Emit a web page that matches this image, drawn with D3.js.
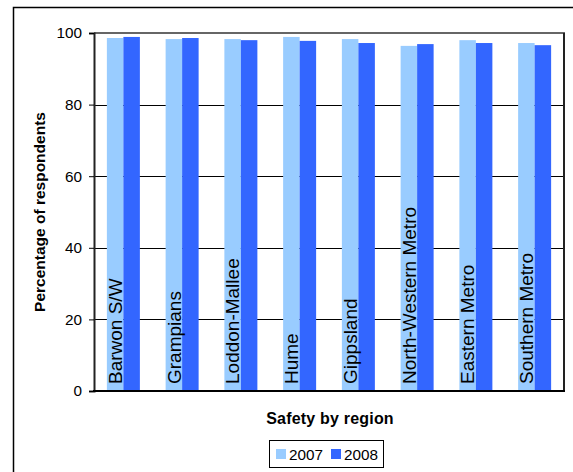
<!DOCTYPE html>
<html><head><meta charset="utf-8">
<script src="https://cdn.jsdelivr.net/npm/d3@7"></script>
<style>html,body{margin:0;padding:0;background:#fff;}svg{display:block;}</style>
</head><body>
<script>
const categories = ["Barwon S/W","Grampians","Loddon-Mallee","Hume","Gippsland","North-Western Metro","Eastern Metro","Southern Metro"];
const seriesNames = ["2007","2008"];
const values2007 = [98.6, 98.3, 98.3, 98.9, 98.3, 96.4, 98.0, 97.2];
const values2008 = [98.9, 98.6, 98.0, 97.8, 97.2, 96.9, 97.2, 96.6];
const yTicks = [0, 20, 40, 60, 80, 100];
const colors = ["#99CCFF", "#3366FF"];
const yTitle = "Percentage of respondents";
const xTitle = "Safety by region";

const W = 573, H = 472;
const font = "'Liberation Sans', Arial, sans-serif";
const svg = d3.select("body").append("svg").attr("width", W).attr("height", H);

// outer frame
svg.append("rect").attr("x", 13.5).attr("y", 7.5).attr("width", 600).attr("height", 500)
  .attr("fill", "#fff").attr("stroke", "#000").attr("stroke-width", 1.5);

const L = 94, R = 564, T = 33, B = 391;
const x = d3.scaleBand().domain(categories).range([L, R]).padding(0);
const y = d3.scaleLinear().domain([0, 100]).range([B, T]);
const groupW = 33;
const xs = d3.scaleBand().domain(seriesNames).range([0, groupW]).padding(0);

// gridlines
svg.append("g").selectAll("line").data(yTicks.filter(t => t > 0 && t < 100)).join("line")
  .attr("x1", L).attr("x2", R).attr("y1", d => Math.round(y(d)) + 0.5).attr("y2", d => Math.round(y(d)) + 0.5)
  .attr("stroke", "#000").attr("stroke-width", 1);

// bars
const data = categories.map((c, i) => ({c, v: [values2007[i], values2008[i]]}));
const g = svg.append("g");
data.forEach(d => {
  const x0 = x(d.c) + x.bandwidth() / 2 - groupW / 2;
  seriesNames.forEach((s, j) => {
    g.append("rect").attr("x", x0 + xs(s)).attr("width", xs.bandwidth())
      .attr("y", y(d.v[j])).attr("height", B - y(d.v[j])).attr("fill", colors[j]);
  });
  g.append("text")
    .attr("transform", `translate(${x0 + 15},${B - 7}) rotate(-90)`)
    .attr("font-family", font).attr("font-size", 19).attr("fill", "#000")
    .text(d.c);
});

// plot borders
svg.append("line").attr("x1", L).attr("x2", R + 1).attr("y1", T).attr("y2", T)
  .attr("stroke", "#666").attr("stroke-width", 2);
svg.append("line").attr("x1", R).attr("x2", R).attr("y1", T).attr("y2", B)
  .attr("stroke", "#222").attr("stroke-width", 2);

// axes
const yAxis = d3.axisLeft(y).tickValues(yTicks).tickSize(5).tickPadding(7);
const ya = svg.append("g").attr("transform", `translate(${L},0)`).call(yAxis);
ya.select(".domain").attr("stroke", "#222").attr("stroke-width", 2);
ya.selectAll(".tick line").attr("stroke", "#000");
ya.selectAll("text").attr("font-family", font).attr("font-size", 15.3).attr("fill", "#000");
svg.append("line").attr("x1", L - 1).attr("x2", R + 1).attr("y1", B).attr("y2", B)
  .attr("stroke", "#000").attr("stroke-width", 2);

// titles
svg.append("text").attr("transform", `translate(45,${(T + B) / 2}) rotate(-90)`)
  .attr("text-anchor", "middle").attr("font-family", font).attr("font-weight", "bold")
  .attr("font-size", 15.5).text(yTitle);
svg.append("text").attr("x", (L + R) / 2 + 1).attr("y", 424)
  .attr("text-anchor", "middle").attr("font-family", font).attr("font-weight", "bold")
  .attr("font-size", 16).attr("letter-spacing", 0.2).text(xTitle);

// legend
const lg = svg.append("g");
lg.append("rect").attr("x", 269.5).attr("y", 440.5).attr("width", 114).attr("height", 27)
  .attr("fill", "#fff").attr("stroke", "#000").attr("stroke-width", 1);
const legX = [276, 331];
seriesNames.forEach((s, j) => {
  lg.append("rect").attr("x", legX[j]).attr("y", 449).attr("width", 10).attr("height", 10).attr("fill", colors[j]);
  lg.append("text").attr("x", legX[j] + 13).attr("y", 459.5).attr("font-family", font)
    .attr("font-size", 15.3).text(s);
});
</script>
</body></html>
